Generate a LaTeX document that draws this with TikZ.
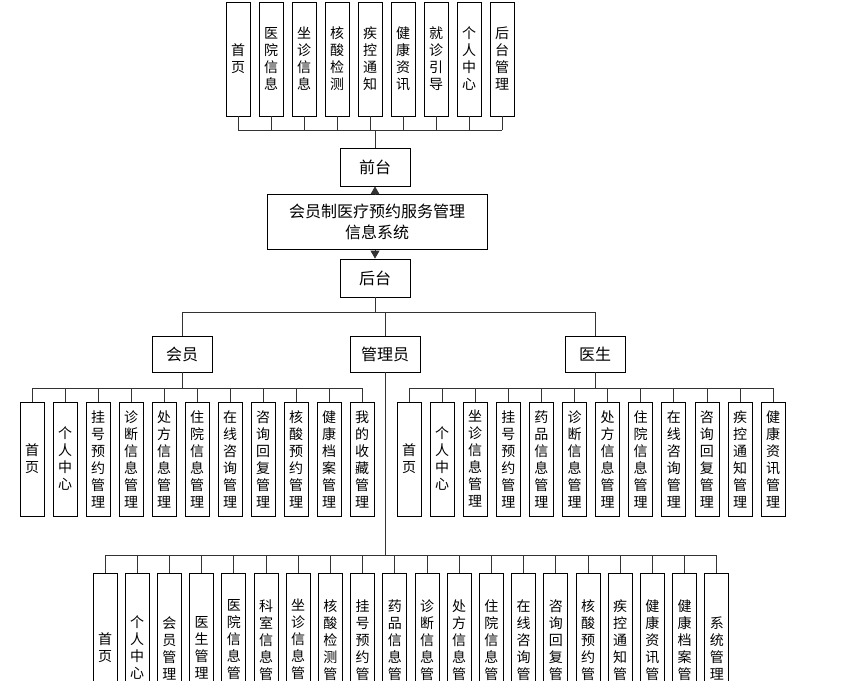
\documentclass[tikz,border=0pt]{standalone}
\usepackage{fontspec}
\setmainfont{Noto Sans CJK SC}
\usetikzlibrary{positioning, arrows.meta}
\tikzset{
  vbox/.style={draw, thick, rectangle, minimum width=24pt, minimum height=114pt, inner sep=0pt,
    align=center, font=\fontsize{14pt}{17pt}\selectfont},
  hbox/.style={draw, thick, rectangle, minimum width=70pt, minimum height=38pt,
    font=\fontsize{16pt}{20pt}\selectfont},
  link/.style={thick, draw=black!80}
}
\begin{document}
\begin{tikzpicture}[x=1pt, y=-1pt]
  \useasboundingbox (0,0) rectangle (864,680);
  \clip (0,0) rectangle (864,680);
  % top: front pages
  \foreach \t [count=\i] in {首\\页, 医\\院\\信\\息, 坐\\诊\\信\\息, 核\\酸\\检\\测, 疾\\控\\通\\知,
      健\\康\\资\\讯, 就\\诊\\引\\导, 个\\人\\中\\心, 后\\台\\管\\理}
    \node[vbox] (f\i) at ({238+33*(\i-1)}, 59) {\t};
  \node[hbox] (front) at (375, 167) {前台};
  \node[draw, thick, minimum width=220pt, minimum height=55pt, align=center,
    font=\fontsize{16pt}{21pt}\selectfont] (sys) at (377, 222) {会员制医疗预约服务管理\\信息系统};
  \node[hbox] (back) at (375, 278) {后台};
  \foreach \i in {1,...,9}
    \draw[link] (f\i.south) -- (f\i.south |- 0,130);
  \draw[link] (f1.south |- 0,130) -- (f9.south |- 0,130);
  \draw[link] (front.north) -- (front.north |- 0,130);
  \draw[link, -{Triangle[length=8pt, width=9pt]}] (sys.north -| front) -- (front.south);
  \draw[link, -{Triangle[length=8pt, width=9pt]}] (sys.south -| back) -- (back.north);
  % roles
  \node[hbox, minimum width=60pt, minimum height=36pt] (member) at (182, 354) {会员};
  \node[hbox, minimum height=36pt] (admin) at (385, 354) {管理员};
  \node[hbox, minimum width=60pt, minimum height=36pt] (doctor) at (595, 354) {医生};
  \draw[link] (back.south) -- (back.south |- 0,312);
  \draw[link] (member.north |- 0,312) -- (doctor.north |- 0,312);
  \foreach \r in {member, admin, doctor}
    \draw[link] (\r.north) -- (\r.north |- 0,312);
  % member pages
  \foreach \t [count=\i] in {首\\页, 个\\人\\中\\心, 挂\\号\\预\\约\\管\\理, 诊\\断\\信\\息\\管\\理,
      处\\方\\信\\息\\管\\理, 住\\院\\信\\息\\管\\理, 在\\线\\咨\\询\\管\\理, 咨\\询\\回\\复\\管\\理,
      核\\酸\\预\\约\\管\\理, 健\\康\\档\\案\\管\\理, 我\\的\\收\\藏\\管\\理}
    \node[vbox] (m\i) at ({32+33*(\i-1)}, 459) {\t};
  \foreach \i in {1,...,11}
    \draw[link] (m\i.north) -- (m\i.north |- 0,388);
  \draw[link] (m1.north |- 0,388) -- (m11.north |- 0,388);
  \draw[link] (member.south) -- (member.south |- 0,388);
  % doctor pages
  \foreach \t [count=\i] in {首\\页, 个\\人\\中\\心, 坐\\诊\\信\\息\\管\\理, 挂\\号\\预\\约\\管\\理,
      药\\品\\信\\息\\管\\理, 诊\\断\\信\\息\\管\\理, 处\\方\\信\\息\\管\\理, 住\\院\\信\\息\\管\\理,
      在\\线\\咨\\询\\管\\理, 咨\\询\\回\\复\\管\\理, 疾\\控\\通\\知\\管\\理, 健\\康\\资\\讯\\管\\理}
    \node[vbox] (d\i) at ({409+33.1*(\i-1)}, 459) {\t};
  \foreach \i in {1,...,12}
    \draw[link] (d\i.north) -- (d\i.north |- 0,388);
  \draw[link] (d1.north |- 0,388) -- (d12.north |- 0,388);
  \draw[link] (doctor.south) -- (doctor.south |- 0,388);
  % admin pages
  \foreach \t [count=\i] in {首\\页, 个\\人\\中\\心, 会\\员\\管\\理, 医\\生\\管\\理,
      医\\院\\信\\息\\管\\理, 科\\室\\信\\息\\管\\理, 坐\\诊\\信\\息\\管\\理, 核\\酸\\检\\测\\管\\理,
      挂\\号\\预\\约\\管\\理, 药\\品\\信\\息\\管\\理, 诊\\断\\信\\息\\管\\理, 处\\方\\信\\息\\管\\理,
      住\\院\\信\\息\\管\\理, 在\\线\\咨\\询\\管\\理, 咨\\询\\回\\复\\管\\理, 核\\酸\\预\\约\\管\\理,
      疾\\控\\通\\知\\管\\理, 健\\康\\资\\讯\\管\\理, 健\\康\\档\\案\\管\\理, 系\\统\\管\\理}
    \node[vbox, minimum height=150pt] (a\i) at ({105+32.2*(\i-1)}, 648) {\t};
  \foreach \i in {1,...,20}
    \draw[link] (a\i.north) -- (a\i.north |- 0,555);
  \draw[link] (a1.north |- 0,555) -- (a20.north |- 0,555);
  \draw[link] (admin.south) -- (admin.south |- 0,555);
\end{tikzpicture}
\end{document}
